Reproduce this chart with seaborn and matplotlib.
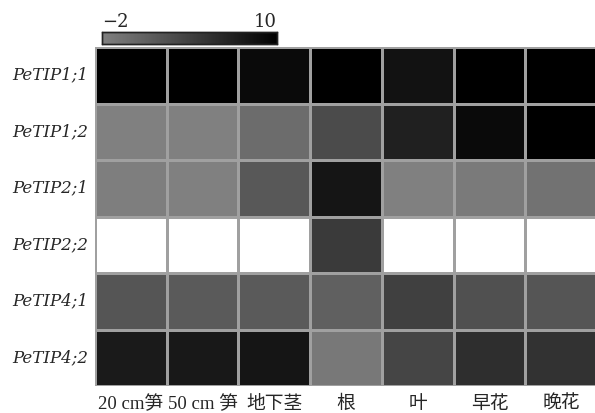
import numpy as np
import pandas as pd
import matplotlib
matplotlib.use('Agg')
import matplotlib.pyplot as plt
from matplotlib.colors import LinearSegmentedColormap
import seaborn as sns

# Data (log2 expression, NaN = not detected)
genes = ['PeTIP1;1', 'PeTIP1;2', 'PeTIP2;1', 'PeTIP2;2', 'PeTIP4;1', 'PeTIP4;2']
tissues = ['20 cm笋', '50 cm 笋', '地下茎', '根', '叶', '早花', '晚花']
tip1_1 = [10.0, 10.0, 9.1, 10.0, 8.3, 10.0, 10.0]
tip1_2 = [-2.0, -2.0, -0.1, 3.0, 7.0, 9.1, 10.0]
tip2_1 = [-1.8, -2.0, 1.75, 8.0, -2.0, -1.4, -0.7]
tip2_2 = [np.nan, np.nan, np.nan, 4.6, np.nan, np.nan, np.nan]
tip4_1 = [2.0, 1.6, 1.6, 1.0, 4.0, 2.5, 2.0]
tip4_2 = [7.6, 7.75, 8.0, -1.25, 3.5, 5.7, 5.3]

df = pd.DataFrame([tip1_1, tip1_2, tip2_1, tip2_2, tip4_1, tip4_2],
                  index=genes, columns=tissues)

sns.set_style('white')
plt.rcParams['font.family'] = ['DejaVu Serif', 'Noto Sans CJK SC', 'DejaVu Sans']
plt.rcParams['axes.unicode_minus'] = True
x_fonts = ['Liberation Serif', 'Noto Sans CJK SC', 'DejaVu Sans']

W, H = 595, 413
fig = plt.figure(figsize=(W / 100, H / 100), dpi=100)
ax = fig.add_axes([95 / W, 1 - 386 / H, 502 / W, 339 / H])
cax = fig.add_axes([102 / W, 1 - 44 / H, 175 / W, 12 / H])

cmap = LinearSegmentedColormap.from_list('grey_black', ['#808080', '#000000'])
sns.heatmap(df, ax=ax, cmap=cmap, vmin=-2, vmax=10, linewidths=0.9,
            linecolor='#a0a0a0', cbar_ax=cax,
            cbar_kws={'orientation': 'horizontal', 'ticks': [-2, 10]})

ax.tick_params(axis='y', length=0, pad=5)
ax.tick_params(axis='x', length=0, pad=7)
ax.set_xlabel('')
ax.set_ylabel('')
ax.set_yticklabels(genes, rotation=0, fontsize=12, style='italic')
ax.set_xticklabels(tissues, rotation=0, fontsize=13.5, family=x_fonts)

cax.xaxis.set_ticks_position('top')
cax.tick_params(length=0, pad=1, labelsize=13)
cax.set_xticklabels(['\u22122', '10'])
for lbl, ha in zip(cax.get_xticklabels(), ['left', 'right']):
    lbl.set_ha(ha)
for s in cax.spines.values():
    s.set_visible(True)
    s.set_color('#222222')
    s.set_linewidth(1)

fig.savefig('out.png', dpi=100)
